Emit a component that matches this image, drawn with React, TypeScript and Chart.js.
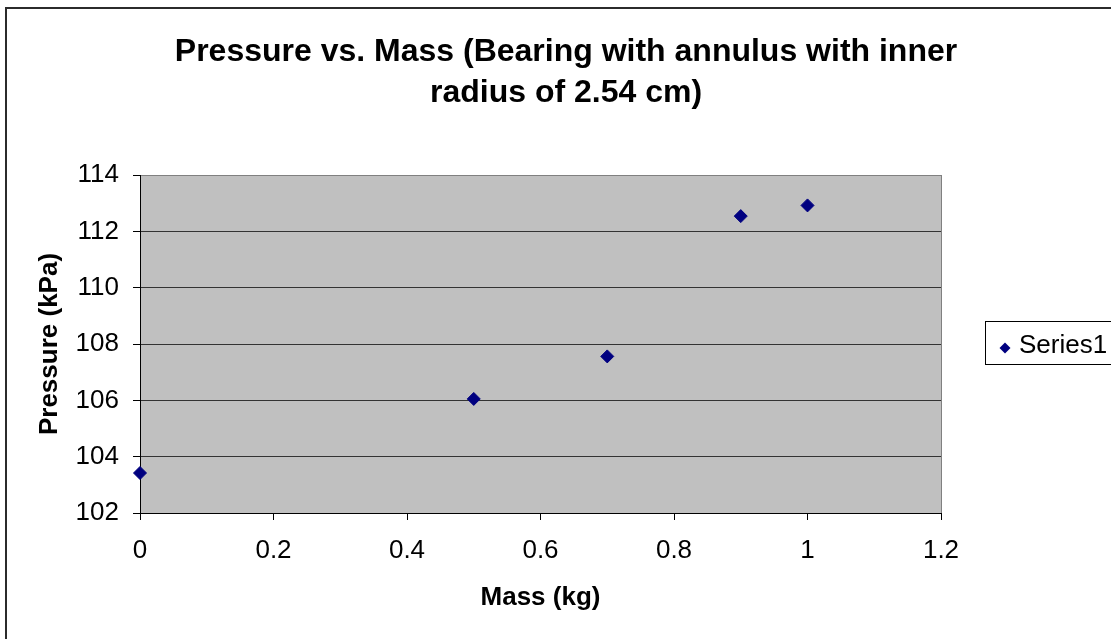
import React, { useEffect, useRef } from 'react';
import { Chart, registerables } from 'chart.js';

Chart.register(...registerables);

const TITLE_LINES = ['Pressure vs. Mass (Bearing with annulus with inner', 'radius of 2.54 cm)'];
const X_TITLE = 'Mass (kg)';
const Y_TITLE = 'Pressure (kPa)';
const SERIES_NAME = 'Series1';

const massKg = [0, 0.5, 0.7, 0.9, 1.0];
const pressureKPa = [103.42, 106.05, 107.56, 112.54, 112.92];

const X_MIN = 0;
const X_MAX = 1.2;
const X_STEP = 0.2;
const Y_MIN = 102;
const Y_MAX = 114;
const Y_STEP = 2;

const FONT = '"Liberation Sans", Arial, Helvetica, sans-serif';
const NAVY = '#000080';

const decor = {
  id: 'decor',
  beforeDraw(chart: any) {
    const { ctx, chartArea: a } = chart;
    ctx.save();
    ctx.fillStyle = '#ffffff';
    ctx.fillRect(0, 0, chart.width, chart.height);
    ctx.fillStyle = '#C0C0C0';
    ctx.fillRect(a.left, a.top, a.right - a.left, a.bottom - a.top);
    ctx.strokeStyle = '#2b2b2b';
    ctx.lineWidth = 2;
    ctx.strokeRect(6, 8, 1200, 800);
    ctx.restore();
  },
  beforeDatasetsDraw(chart: any) {
    const { ctx, chartArea: a } = chart;
    ctx.save();
    ctx.strokeStyle = '#808080';
    ctx.lineWidth = 1;
    ctx.beginPath();
    ctx.moveTo(Math.round(a.right) + 0.5, a.top);
    ctx.lineTo(Math.round(a.right) + 0.5, a.bottom);
    ctx.stroke();
    ctx.restore();
  },
  afterDraw(chart: any) {
    const { ctx } = chart;
    ctx.save();
    // title
    ctx.fillStyle = '#000';
    ctx.font = `bold 32px ${FONT}`;
    ctx.textAlign = 'center';
    ctx.textBaseline = 'alphabetic';
    ctx.fillText(TITLE_LINES[0], 566, 61);
    ctx.fillText(TITLE_LINES[1], 566, 102);
    // legend
    ctx.fillStyle = '#fff';
    ctx.fillRect(985, 321, 200, 44);
    ctx.strokeStyle = '#000';
    ctx.lineWidth = 1;
    ctx.strokeRect(985.5, 321.5, 200, 43);
    const ds = chart.data.datasets[0];
    const cx = 1005, cy = 348, r = 5.5;
    ctx.fillStyle = NAVY;
    ctx.beginPath();
    ctx.moveTo(cx - r, cy);
    ctx.lineTo(cx, cy - r);
    ctx.lineTo(cx + r, cy);
    ctx.lineTo(cx, cy + r);
    ctx.closePath();
    ctx.fill();
    ctx.fillStyle = '#000';
    ctx.font = `26px ${FONT}`;
    ctx.textAlign = 'left';
    ctx.fillText(ds.label, 1019, 353);
    ctx.restore();
  },
};

export default function App() {
  const ref = useRef<HTMLCanvasElement | null>(null);
  useEffect(() => {
    if (!ref.current) return;
    const chart = new Chart(ref.current, {
      type: 'scatter',
      data: {
        datasets: [
          {
            label: SERIES_NAME,
            data: massKg.map((m, i) => ({ x: m, y: pressureKPa[i] })),
            pointStyle: 'rectRot',
            pointRadius: 6.5,
            pointHoverRadius: 6.5,
            backgroundColor: NAVY,
            borderColor: NAVY,
            borderWidth: 1,
            showLine: false,
            clip: false,
          },
        ],
      },
      options: {
        responsive: false,
        animation: false,
        devicePixelRatio: 1,
        events: [],
        layout: { padding: { left: 0, top: 175, right: 170, bottom: 0 } },
        plugins: {
          legend: { display: false },
          title: { display: false },
          tooltip: { enabled: false },
        },
        scales: {
          x: {
            type: 'linear',
            min: X_MIN,
            max: X_MAX,
            afterFit: (s: any) => { s.height = 126; },
            ticks: {
              stepSize: X_STEP,
              color: '#000',
              padding: 15,
              font: { family: FONT, size: 26 },
              callback: (v: any) => String(Math.round(Number(v) * 10) / 10),
            },
            grid: {
              drawOnChartArea: false,
              drawTicks: true,
              tickLength: 7,
              tickColor: '#000',
              color: '#000',
            },
            border: { display: true, color: '#000', width: 1 },
            title: {
              display: true,
              text: X_TITLE,
              color: '#000',
              font: { family: FONT, size: 26, weight: 'bold' },
              padding: { top: 0, bottom: 26 },
            },
          },
          y: {
            type: 'linear',
            min: Y_MIN,
            max: Y_MAX,
            afterFit: (s: any) => { s.width = 140; },
            ticks: {
              stepSize: Y_STEP,
              color: '#000',
              padding: 14,
              font: { family: FONT, size: 26 },
            },
            grid: {
              drawOnChartArea: true,
              drawTicks: true,
              tickLength: 7,
              tickColor: '#000',
              color: (c: any) => (c.tick && c.tick.value === Y_MAX ? '#808080' : '#333333'),
              lineWidth: 1,
            },
            border: { display: true, color: '#000', width: 1 },
            title: {
              display: true,
              text: Y_TITLE,
              color: '#000',
              font: { family: FONT, size: 26, weight: 'bold' },
              padding: { top: 34, bottom: 0 },
            },
          },
        },
      },
      plugins: [decor],
    });
    return () => chart.destroy();
  }, []);
  return (
    <div style={{ position: 'fixed', left: 0, top: 0, width: 1111, height: 639 }}>
      <canvas ref={ref} width={1111} height={639} style={{ width: 1111, height: 639, display: 'block' }} />
    </div>
  );
}
